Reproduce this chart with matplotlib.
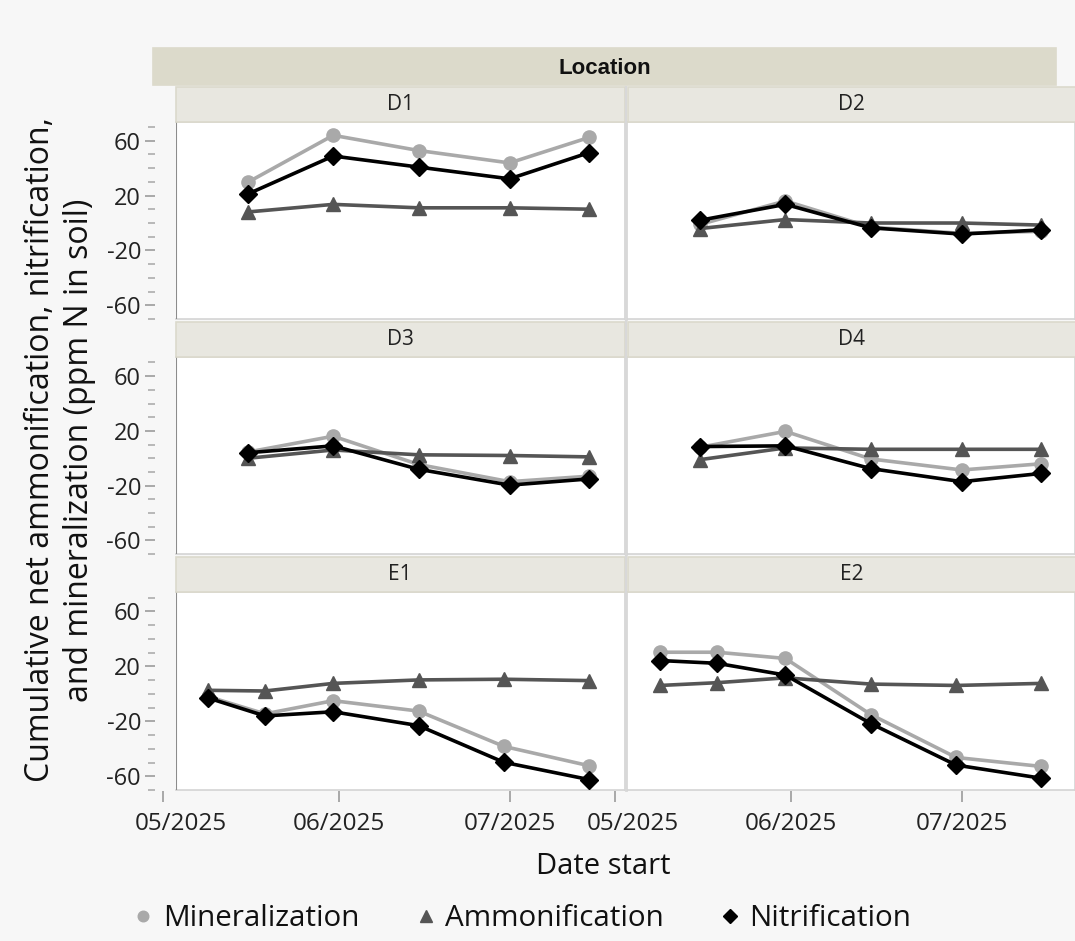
import numpy as np
import pandas as pd
import matplotlib
matplotlib.use("Agg")
import matplotlib.pyplot as plt
import matplotlib.dates as mdates
from matplotlib.patches import Rectangle
from matplotlib.lines import Line2D
from matplotlib.transforms import ScaledTranslation

plt.rcParams['font.family'] = ['Open Sans', 'Noto Sans', 'DejaVu Sans']

# donnees
dates_D = pd.to_datetime(['2025-05-16', '2025-05-31', '2025-06-15', '2025-07-01', '2025-07-15'])
dates_E = pd.to_datetime(['2025-05-09', '2025-05-19', '2025-05-31', '2025-06-15', '2025-06-30', '2025-07-15'])

locations = ['D1', 'D2', 'D3', 'D4', 'E1', 'E2']

D1_min = [30, 64, 53, 44, 62.5]
D1_amm = [8.5, 14, 11.5, 11.5, 10.5]
D1_nit = [21.5, 49, 41, 32.5, 51.5]
D2_min = [-0.5, 16.5, -2.5, -7, -5.5]
D2_amm = [-3.5, 3, 0.5, 0.5, -1]
D2_nit = [2.5, 14, -3, -7.5, -4.5]
D3_min = [5, 16.5, -4, -16.5, -12.5]
D3_amm = [0.5, 6.5, 3, 2.5, 1.5]
D3_nit = [4.5, 9.5, -7.5, -19, -14.5]
D4_min = [8.5, 20, 0, -8, -3.5]
D4_amm = [-0.5, 8, 7, 7, 7]
D4_nit = [9, 9.5, -7, -16.5, -10.5]
E1_min = [-1.5, -14, -4.5, -12, -37.5, -51.5]
E1_amm = [3, 2.5, 8, 10.5, 11, 10]
E1_nit = [-2.5, -15.5, -12.5, -22.5, -49, -61.5]
E2_min = [30.5, 30.5, 26, -14.5, -45.5, -52]
E2_amm = [6.5, 8.5, 12, 7.5, 6.5, 8]
E2_nit = [24.5, 22.5, 14, -21, -51, -60.5]

donnees = {
    'D1': (dates_D, D1_min, D1_amm, D1_nit),
    'D2': (dates_D, D2_min, D2_amm, D2_nit),
    'D3': (dates_D, D3_min, D3_amm, D3_nit),
    'D4': (dates_D, D4_min, D4_amm, D4_nit),
    'E1': (dates_E, E1_min, E1_amm, E1_nit),
    'E2': (dates_E, E2_min, E2_amm, E2_nit),
}

series = ['Mineralization', 'Ammonification', 'Nitrification']
couleurs = ['#a9a9a9', '#555555', '#000000']
marqueurs = ['o', '^', 'D']
tailles = [9.5, 10, 9.5]

yticks_maj = [-60, -20, 20, 60]

# mise en page (pixels)
W, H = 1075, 941
fig = plt.figure(figsize=(W / 100, H / 100), dpi=100, facecolor='#f7f7f7')


def rect(x0, y0, x1, y1):
    return [x0 / W, 1 - y1 / H, (x1 - x0) / W, (y1 - y0) / H]


def boite(x0, y0, x1, y1, fc, ec):
    fig.add_artist(Rectangle((x0 / W, 1 - y1 / H), (x1 - x0) / W, (y1 - y0) / H,
                             transform=fig.transFigure, facecolor=fc, edgecolor=ec, lw=1.2))


colonnes = [(176, 624.5, 162.5), (626, 1075, 614.7)]  # x0, x1, origine 1er mai
lignes = [(87, 121.5, 319), (322, 357, 554), (557, 592, 790)]  # bandeau, haut, bas
px_jour = 5.69
debut = pd.Timestamp('2025-05-01')

# bandeau Location
boite(153, 48, 1056, 85, '#dcdacb', '#dcdacb')
fig.text((153 + 1056) / 2 / W, 1 - 68.5 / H, 'Location', ha='center', va='center',
         fontsize=16, fontweight='bold', color='#111111',
         family=['Liberation Sans', 'DejaVu Sans'])

for k, loc in enumerate(locations):
    r, c = k // 2, k % 2
    x0, x1, orig = colonnes[c]
    ys, yt, yb = lignes[r]
    sx0 = x0 if c == 0 else 628
    boite(sx0, ys, x1 if c == 0 else 1080, yt, '#e8e7e0', '#dbd9cc')
    fig.text((sx0 + (x1 if c == 0 else 1075)) / 2 / W, 1 - (ys + yt) / 2 / H, loc,
             ha='center', va='center', fontsize=15, color='#222222')

    ax = fig.add_axes(rect(x0, yt, x1, yb))
    ax.set_facecolor('white')
    dt, mi, am, ni = donnees[loc]
    for vals, col, mk, ms in zip([mi, am, ni], couleurs, marqueurs, tailles):
        ax.plot(dt, vals, color=col, lw=2.6, marker=mk, ms=ms, mec=col, mfc=col, zorder=3)
    ax.set_xlim(debut + pd.Timedelta(days=(x0 - orig) / px_jour),
                debut + pd.Timedelta(days=(x1 - orig) / px_jour))
    ax.set_ylim(-69, 74)
    ax.set_xticks([])
    ax.set_yticks([])
    for s in ax.spines.values():
        s.set_color('#d4d4d4')
        s.set_linewidth(1.2)
    if c == 0:
        ax.spines['left'].set_visible(False)
        ax.axvline(ax.get_xlim()[0], color='#8c8c8c', lw=1.5, zorder=5)
        # axe y separe du cadre
        ay = fig.add_axes(rect(x0 - 21, yt, x0 - 20, yb))
        ay.set_facecolor('none')
        for s in ay.spines.values():
            s.set_visible(False)
        ay.set_ylim(-69, 74)
        ay.set_xticks([])
        ay.set_yticks(yticks_maj)
        ay.set_yticklabels([str(v) for v in yticks_maj])
        ay.set_yticks(np.arange(-70, 80, 10), minor=True)
        ay.tick_params(axis='y', which='major', length=7, width=1.4, color='#a8a8a8',
                       labelsize=17, pad=3, labelcolor='#222222')
        ay.tick_params(axis='y', which='minor', length=5, width=1.4, color='#b8b8b8')
    else:
        ax.spines['left'].set_color('#d8d8d8')
        ax.spines['left'].set_linewidth(2)

    if r == 2:
        # axe des dates
        xa = fig.add_axes(rect(x0 - 30, yb, x1, yb + 1))
        xa.set_facecolor('none')
        for s in xa.spines.values():
            s.set_visible(False)
        xa.set_yticks([])
        xa.set_xlim(debut + pd.Timedelta(days=(x0 - 30 - orig) / px_jour),
                    debut + pd.Timedelta(days=(x1 - orig) / px_jour))
        xa.xaxis.set_major_locator(mdates.MonthLocator())
        xa.xaxis.set_major_formatter(mdates.DateFormatter('%m/%Y'))
        xa.tick_params(axis='x', length=8, width=1.4, color='#a8a8a8', labelsize=17.5,
                       pad=7, labelcolor='#222222')
        # premiere etiquette decalee vers la droite (comme JMP)
        lab0 = xa.get_xticklabels()[0]
        lab0.set_transform(lab0.get_transform() + ScaledTranslation(0.18, 0, fig.dpi_scale_trans))

# ligne de separation des colonnes
fig.add_artist(Line2D([625.5 / W, 625.5 / W], [1 - 87 / H, 1 - 790 / H],
                      transform=fig.transFigure, color='#d8d8d8', lw=1.6))

fig.text(603 / W, 1 - 866 / H, 'Date start', ha='center', va='center',
         fontsize=21, color='#111111')
fig.text(60 / W, 1 - 450 / H,
         'Cumulative net ammonification, nitrification,\nand mineralization (ppm N in soil)',
         ha='center', va='center', rotation=90, fontsize=23, color='#111111',
         linespacing=1.22)

poignees = [Line2D([], [], ls='none', marker=mk, color=col, ms=ms * 0.8)
            for mk, col, ms in zip(marqueurs, couleurs, tailles)]
fig.legend(poignees, series, loc='center', bbox_to_anchor=(520 / W, 1 - 919 / H),
           ncol=3, frameon=False, fontsize=21.3, handletextpad=0.15, columnspacing=1.75,
           handlelength=1.0, labelcolor='#111111')

plt.savefig('out.png', dpi=100, facecolor=fig.get_facecolor())
